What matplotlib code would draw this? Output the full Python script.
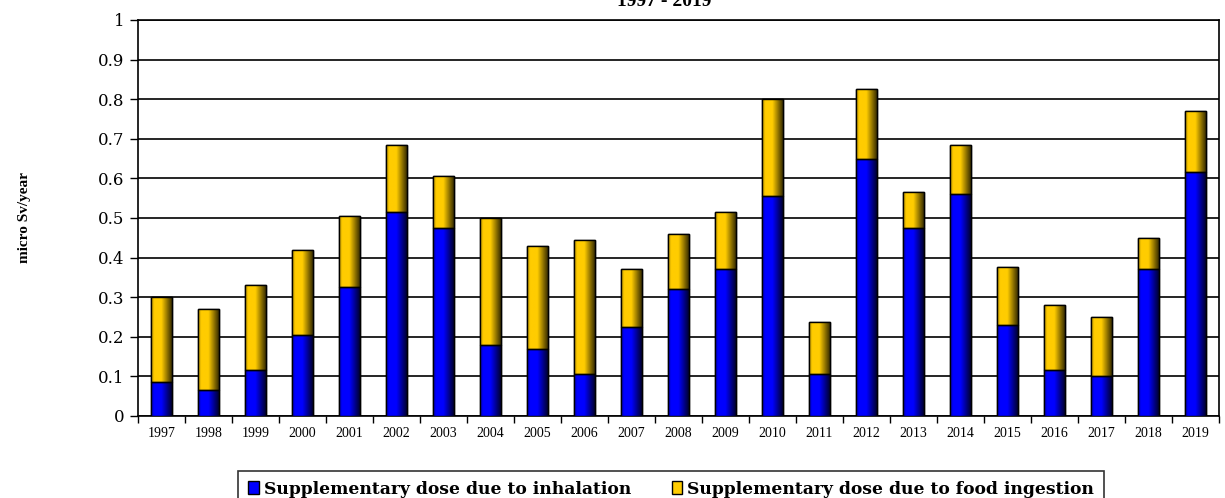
import numpy as np
import matplotlib
matplotlib.use("Agg")
import matplotlib.pyplot as plt
from matplotlib.colors import LinearSegmentedColormap

# data (micro Sv/year)
years = ["1997", "1998", "1999", "2000", "2001", "2002", "2003", "2004",
         "2005", "2006", "2007", "2008", "2009", "2010", "2011", "2012",
         "2013", "2014", "2015", "2016", "2017", "2018", "2019"]
inhalation = [0.085, 0.065, 0.115, 0.205, 0.325, 0.515, 0.475, 0.18,
              0.17, 0.105, 0.225, 0.32, 0.37, 0.555, 0.105, 0.65,
              0.475, 0.56, 0.23, 0.115, 0.10, 0.37, 0.615]
totals = [0.30, 0.27, 0.33, 0.42, 0.505, 0.685, 0.605, 0.50,
          0.43, 0.445, 0.37, 0.46, 0.515, 0.80, 0.237, 0.825,
          0.565, 0.685, 0.375, 0.28, 0.25, 0.45, 0.77]
food = [t - i for t, i in zip(totals, inhalation)]

fig = plt.figure(figsize=(12.25, 4.98), dpi=100)
ax = fig.add_axes([0.1127, 0.1647, 0.8824, 0.7953])

x = np.arange(len(years))
w = 0.43
b1 = ax.bar(x, inhalation, w, color="#0000ff", edgecolor="black", linewidth=1, zorder=3,
            label="Supplementary dose due to inhalation")
b2 = ax.bar(x, food, w, bottom=inhalation, color="#ffcc00", edgecolor="black", linewidth=1,
            zorder=3, label="Supplementary dose due to food ingestion")

# shaded look of the bars (dark right edge)
blue_cm = LinearSegmentedColormap.from_list(
    "b", [(0, "#0000b0"), (0.15, "#0000ff"), (0.5, "#0000ff"), (1, "#000030")])
gold_cm = LinearSegmentedColormap.from_list(
    "g", [(0, "#b08a00"), (0.15, "#ffcc00"), (0.5, "#ffcc00"), (1, "#3a2e00")])
grad = np.linspace(0, 1, 64).reshape(1, -1)
for bars, cm in ((b1, blue_cm), (b2, gold_cm)):
    for p in bars:
        x0, y0 = p.get_x(), p.get_y()
        im = ax.imshow(grad, cmap=cm, aspect="auto", zorder=3.5,
                       extent=(x0, x0 + p.get_width(), y0, y0 + p.get_height()))
        im.set_clip_path(p)
        edge = plt.Rectangle((x0, y0), p.get_width(), p.get_height(), fill=False,
                             edgecolor="black", linewidth=1, zorder=4)
        ax.add_patch(edge)

ax.set_xlim(-0.5, len(years) - 0.5)
ax.set_ylim(0, 1)
ax.set_yticks(np.arange(0, 1.01, 0.1))
ax.set_yticklabels(["0", "0.1", "0.2", "0.3", "0.4", "0.5", "0.6", "0.7", "0.8", "0.9", "1"],
                   fontfamily="DejaVu Serif", fontsize=12)
ax.yaxis.grid(True, color="black", linewidth=1.2)
ax.set_axisbelow(True)

ax.set_xticks(x)
ax.set_xticklabels(years, fontfamily="Liberation Serif", fontsize=10)
ax.set_xticks(np.arange(-0.5, len(years), 1), minor=True)
ax.tick_params(axis="x", which="major", length=0, pad=8)
ax.tick_params(axis="x", which="minor", length=5, direction="out", width=1)
ax.tick_params(axis="y", length=6, direction="out", width=1, pad=4)
for s in ax.spines.values():
    s.set_linewidth(1.2)
    s.set_color("black")

ax.set_ylabel("micro Sv/year", fontfamily="Liberation Serif", fontweight="bold",
              fontsize=11, labelpad=48)

fig.text(0.542, 0.997, "1997 - 2019", ha="center", va="center",
         fontfamily="Liberation Serif", fontweight="bold", fontsize=14)

leg = fig.legend(loc="upper center", bbox_to_anchor=(0.548, 0.0723), ncol=2,
                 prop={"family": "DejaVu Serif", "weight": "bold", "size": 12.3},
                 frameon=True, fancybox=False, edgecolor="black", borderpad=0.6,
                 handlelength=0.6, handleheight=0.8, handletextpad=0.3,
                 columnspacing=2.4)
leg.get_frame().set_linewidth(1.2)

fig.savefig("out.png", dpi=100)
